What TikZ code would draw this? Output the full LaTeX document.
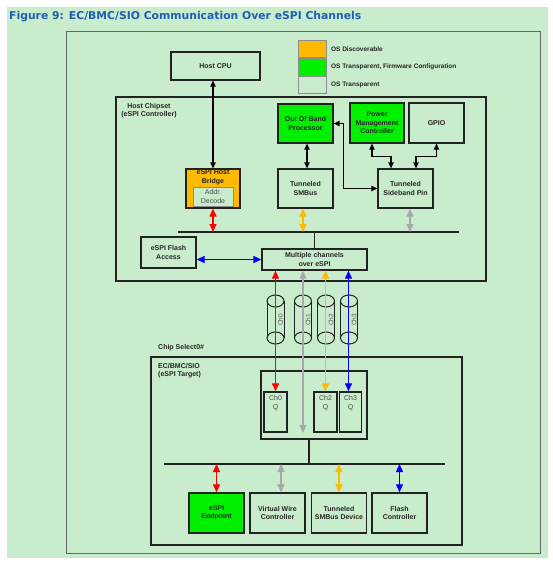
\documentclass[tikz,border=0pt]{standalone}
\usepackage{fontspec}
\setmainfont{Liberation Sans}
\newfontfamily\titlefont{DejaVu Sans}
\usetikzlibrary{arrows.meta,positioning}
\definecolor{bggreen}{HTML}{C8ECCC}
\definecolor{osdisc}{HTML}{FFBA00}
\definecolor{osfw}{HTML}{00F000}
\definecolor{titleblue}{HTML}{1F5FB0}
\definecolor{chgray}{HTML}{A8A8A8}
\definecolor{chred}{HTML}{FF0000}
\definecolor{chblue}{HTML}{0000FF}
\definecolor{linedark}{HTML}{222222}

\begin{document}
\begin{tikzpicture}[x=1pt, y=-1pt,
  box/.style={draw=linedark, line width=1.3pt, minimum width=55pt,
    minimum height=39pt, align=center, inner sep=1pt,
    font=\bfseries\fontsize{7}{8.4}\selectfont, text=black!85},
  boxtext/.style={align=center, inner sep=1pt,
    font=\bfseries\fontsize{7}{8.4}\selectfont, text=black!85},
  qtext/.style={align=center, inner sep=1pt,
    font=\fontsize{7}{8.4}\selectfont, text=black!70},
  decodebox/.style={draw=black!45, line width=1pt, fill=bggreen,
    minimum width=40pt, minimum height=19pt, align=center, inner sep=0pt,
    font=\fontsize{7}{8.4}\selectfont, text=black!70},
  areabox/.style={draw=linedark, line width=1.3pt, inner sep=0pt},
  arealabel/.style={align=left, inner sep=0pt,
    font=\bfseries\fontsize{7}{8.4}\selectfont, text=black!85},
  swatch/.style={draw=black!45, line width=.8pt, minimum width=28pt,
    minimum height=17pt, inner sep=0pt},
  legtext/.style={inner sep=0pt, font=\bfseries\fontsize{6.5}{8}\selectfont,
    text=black!85},
  busline/.style={draw=linedark, line width=1.3pt},
  blkarr/.style={{Triangle[length=6pt,width=5.5pt]}-{Triangle[length=6pt,width=5.5pt]},
    line width=1.1pt, draw=black},
  colarr/.style={{Triangle[length=8pt,width=7pt]}-{Triangle[length=8pt,width=7pt]},
    line width=1.2pt, draw=#1, fill=#1},
  cyl/.style={draw=linedark, line width=1pt}
  ]
  \useasboundingbox (0,0) rectangle (552,564);
  \fill[bggreen] (7,7) rectangle (548,558);
  \node[anchor=west, inner sep=0pt, text=titleblue,
    font=\titlefont\bfseries\fontsize{10.8}{13}\selectfont] (title) at (9,17)
    {Figure 9: EC/BMC/SIO Communication Over eSPI Channels};
  \node[draw=black!60, line width=.9pt, minimum width=474pt,
    minimum height=522pt, inner sep=0pt] (outer) at (303,292) {};

  % legend
  \node[swatch, fill=osdisc] (legdisc) at (312.5,49) {};
  \node[swatch, fill=osfw, below=0pt of legdisc] (legfw) {};
  \node[swatch, below=0pt of legfw] (legtrans) {};
  \node[legtext, right=4pt of legdisc] {OS Discoverable};
  \node[legtext, right=4pt of legfw] {OS Transparent, Firmware Configuration};
  \node[legtext, right=4pt of legtrans] {OS Transparent};

  \node[box, minimum width=89pt, minimum height=28pt] (cpu) at (215.5,66) {Host CPU};

  % host chipset
  \node[areabox, minimum width=370pt, minimum height=184pt] (chipset) at (301,189) {};
  \node[arealabel, align=center, anchor=north] at (149,103)
    {Host Chipset\\(eSPI Controller)};
  \node[box, fill=osdisc, minimum width=54pt] (bridge) at (213,188.5) {};
  \node[boxtext, below=0.5pt of bridge.north] {eSPI Host\\Bridge};
  \node[decodebox] (decode) at (213,196.5) {Addr.\\Decode};
  \node[box, fill=osfw] (oob) at (305.5,123.5) {Out Of Band\\Processor};
  \node[box, fill=osfw, minimum width=54pt, minimum height=40pt] (pmc) at (377,123)
    {Power\\Management\\Controller};
  \node[box, minimum height=40pt] (gpio) at (436.5,123) {GPIO};
  \node[box] (smbus) at (305.5,188.5) {Tunneled\\SMBus};
  \node[box] (sideband) at (405.5,188.5) {Tunneled\\Sideband Pin};
  \node[box, minimum height=31pt] (flash) at (168.5,252.5) {eSPI Flash\\Access};
  \node[box, minimum width=105pt, minimum height=21pt] (mchan) at (314.5,259.5)
    {Multiple channels\\over eSPI};

  \coordinate (busAl) at (178,232);
  \coordinate (busAr) at (459,232);
  \draw[busline] (busAl) -- (busAr);
  \draw[busline] (mchan.north) -- (mchan.north |- busAl);

  \draw[blkarr] (cpu.south -| bridge.north) -- (bridge.north);
  \draw[blkarr] ([xshift=1.5pt]oob.south) -- ([xshift=1.5pt]smbus.north);
  \draw[blkarr] (oob.east) -- ++(10,0) |- (sideband.west);
  \draw[blkarr] ([xshift=-5pt]pmc.south) -- ++(0,13) -| ([xshift=-14.5pt]sideband.north);
  \draw[blkarr] (gpio.south) -- ++(0,13) -| ([xshift=10.5pt]sideband.north);

  \draw[colarr=chred] (bridge.south) -- (bridge.south |- busAl);
  \draw[colarr=osdisc] ([xshift=-2.5pt]smbus.south) -- ([xshift=-2.5pt]smbus.south |- busAl);
  \draw[colarr=chgray] ([xshift=4.5pt]sideband.south) -- ([xshift=4.5pt]sideband.south |- busAl);
  \draw[colarr=chblue] (flash.east |- mchan.west) -- (mchan.west);

  % channels
  \foreach \x/\n in {275.5/0,303/1,326/2,349/3}{
    \draw[cyl] (\x,301) ellipse [x radius=8.5, y radius=6];
    \draw[cyl] (\x,338) ellipse [x radius=8.5, y radius=6];
    \draw[cyl] (\x-8.5,301) -- (\x-8.5,338) (\x+8.5,301) -- (\x+8.5,338);
    \node[rotate=90, inner sep=0pt, text=black!65,
      font=\fontsize{6.5}{7}\selectfont] (cyl\n) at (\x+5,320) {Ch\n};
  }

  % target
  \node[anchor=west, arealabel] (cslabel) at (158,348) {Chip Select0\#};
  \node[areabox, minimum width=311pt, minimum height=188pt] (target) at (306.5,451) {};
  \node[arealabel, anchor=north west] at (158,363) {EC/BMC/SIO\\(eSPI Target)};
  \node[areabox, minimum width=106pt, minimum height=68pt] (qbox) at (314,405) {};
  \node[areabox, minimum width=23pt, minimum height=40pt] (q0) at (275.5,412) {};
  \node[areabox, minimum width=23pt, minimum height=40pt] (q2) at (325.5,412) {};
  \node[areabox, minimum width=22pt, minimum height=40pt] (q3) at (350.5,412) {};
  \node[qtext, below=3pt of q0.north] {Ch0\\Q};
  \node[qtext, below=3pt of q2.north] {Ch2\\Q};
  \node[qtext, below=3pt of q3.north] {Ch3\\Q};
  \coordinate (ch1end) at (303,433);

  \draw[colarr=chred] (q0.north |- mchan.south) -- (q0.north);
  \draw[colarr=chgray] (ch1end |- mchan.south) -- (ch1end);
  \draw[colarr=osdisc] (q2.north |- mchan.south) -- (q2.north);
  \draw[colarr=chblue] ([xshift=-2pt]q3.north |- mchan.south) -- ([xshift=-2pt]q3.north);

  \coordinate (busBl) at (164,464);
  \coordinate (busBr) at (445,464);
  \draw[busline] (busBl) -- (busBr);
  \draw[busline] ([xshift=-5pt]qbox.south) -- ([xshift=-5pt]qbox.south |- busBl);

  \node[box, fill=osfw, minimum height=40pt] (endpoint) at (216.5,513) {eSPI\\Endpoint};
  \node[box, minimum height=40pt] (vwire) at (277.5,513) {Virtual Wire\\Controller};
  \node[box, minimum height=40pt] (smbdev) at (339,513) {Tunneled\\SMBus Device};
  \node[box, minimum height=40pt] (flashctl) at (399.5,513) {Flash\\Controller};

  \draw[colarr=chred] (endpoint.north |- busBl) -- (endpoint.north);
  \draw[colarr=chgray] ([xshift=3.5pt]vwire.north |- busBl) -- ([xshift=3.5pt]vwire.north);
  \draw[colarr=osdisc] (smbdev.north |- busBl) -- (smbdev.north);
  \draw[colarr=chblue] (flashctl.north |- busBl) -- (flashctl.north);
\end{tikzpicture}
\end{document}
